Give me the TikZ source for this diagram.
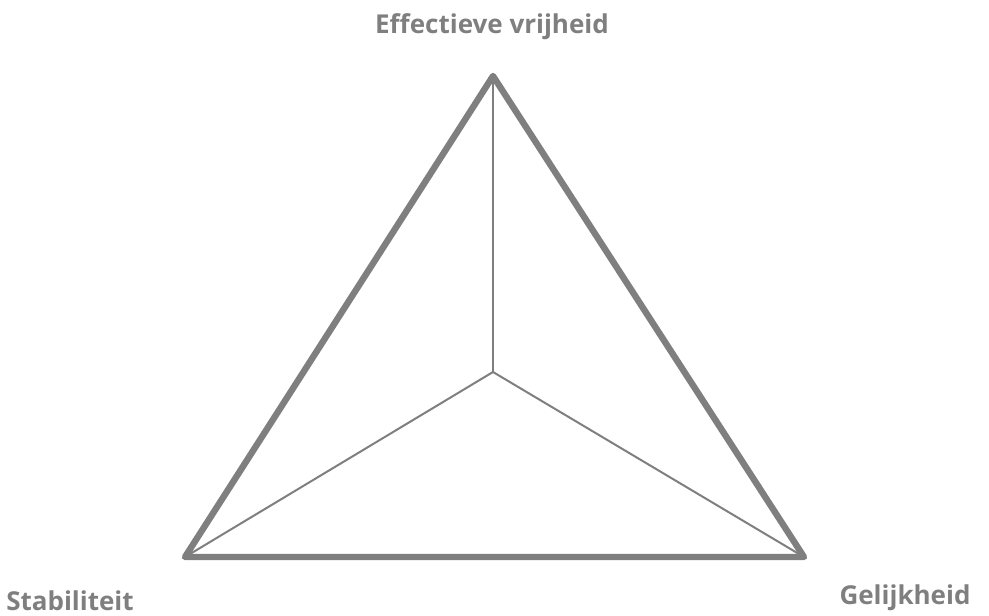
\documentclass[tikz,border=0pt]{standalone}
\usepackage{fontspec}
\setmainfont{Open Sans}
\usepackage{tikz}
\usetikzlibrary{positioning}

\definecolor{axisgray}{HTML}{7F7F7F}

\begin{document}
\begin{tikzpicture}[
    x=0.75pt, y=-0.75pt,
    label/.style={font=\fontsize{19.5}{22}\selectfont\bfseries, text=axisgray},
    rim/.style={draw=axisgray, line width=4.8pt, line join=round},
    spoke/.style={draw=axisgray, line width=1.5pt},
]
\useasboundingbox (0, 0) rectangle (989, 616);

% --- Corners of the triangle ---
\coordinate (vrij) at (493, 76);
\coordinate (stab) at (185, 557);
\coordinate (gelijk) at (804, 557);
\coordinate (mid) at (493, 372);

% Spokes from the centre
\draw[spoke] (mid) -- (vrij);
\draw[spoke] (mid) -- (stab);
\draw[spoke] (mid) -- (gelijk);

% Outline
\draw[rim] (vrij) -- (gelijk) -- (stab) -- cycle;

% --- Labels ---
\node[label] (vrijlabel) at (492, 27) {Effectieve vrijheid};
\node[label] (stablabel) at (70, 601) {Stabiliteit};
\node[label] (gelijklabel) at (905, 598) {Gelijkheid};

\end{tikzpicture}
\end{document}
